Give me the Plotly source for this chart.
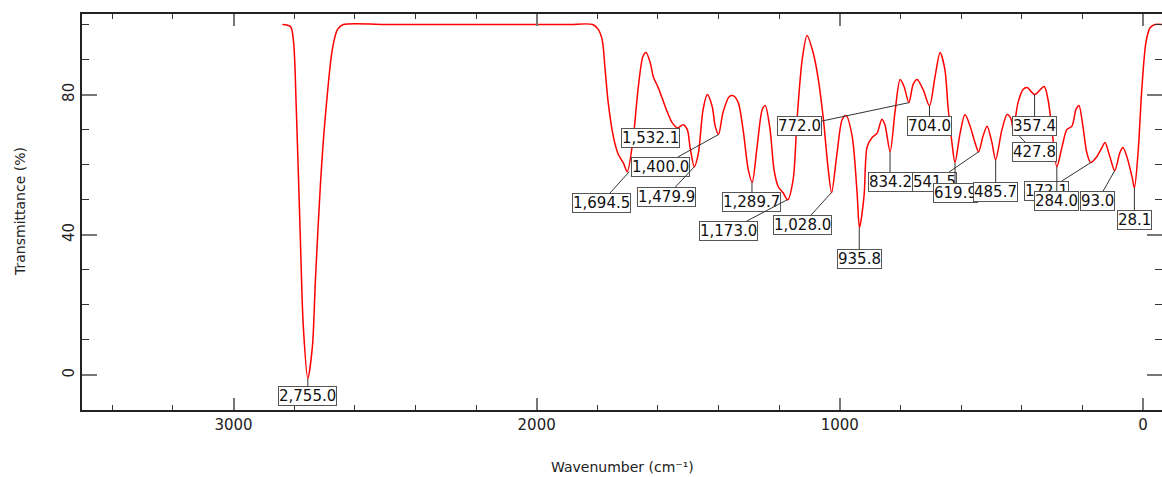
import plotly.graph_objects as go

# ---- spectrum data ----
wavenumber = [2839, 2812, 2802, 2793, 2780, 2770, 2755, 2740, 2730, 2713, 2697, 2674, 2657, 2638,
              2500, 2200, 1900, 1815,
              1797, 1784, 1774, 1764, 1747, 1731, 1714, 1701, 1681, 1665, 1649, 1639, 1625, 1615,
              1599, 1586, 1569, 1553, 1536, 1517, 1503, 1494, 1480, 1467, 1451, 1437, 1421, 1411,
              1400, 1385, 1365, 1352, 1335, 1319, 1302, 1289, 1273, 1256, 1246, 1230, 1217, 1203,
              1187, 1172, 1154, 1141, 1124, 1108, 1088, 1072, 1055, 1039, 1027, 1009, 992, 979,
              959, 943, 935, 920, 910, 894, 877, 861, 851, 834, 818, 801, 788, 772, 758, 745, 725,
              704, 686, 669, 653, 643, 630, 620, 603, 587, 570, 554, 542, 528, 514, 498, 486, 465,
              448, 435, 428, 412, 396, 382, 357, 326, 313, 300, 284, 267, 251, 234, 221, 211, 198,
              185, 172, 152, 135, 125, 109, 93, 76, 66, 53, 36, 28, 16, 3, -10, -23, -40, -63]
transmittance = [100, 99.4, 95, 76, 40, 14, -1, 8, 27, 55, 74, 93, 98.6, 100,
                 100, 100, 100, 100,
                 98.6, 95.7, 87, 77.7, 68, 63, 60.5, 58, 68, 82, 91, 92, 89, 85,
                 82, 79, 75, 72, 70.5, 71.4, 70, 65, 59.4, 63, 75.7, 80, 76.6, 71,
                 68.6, 75, 79.4, 79.7, 77.7, 70, 58.6, 55, 65, 75.7, 76.9, 70, 58.6, 53.7,
                 52, 50, 55.7, 73, 90, 96.9, 92, 85, 73.7, 59.4, 52, 63.4, 72.9, 74,
                 68, 52, 42, 51, 65, 67.7, 69, 73, 71.4, 63.7, 74.9, 84.3, 82.3, 77.7, 82.9, 84.3, 81.4,
                 76.8, 85, 92, 87, 76.6, 66.3, 60.6, 69, 74.3, 71, 66.3, 63.7, 68, 71, 66.3, 61.4, 70,
                 74.3, 73, 70, 77.7, 81.4, 82, 80, 82.3, 78.6, 70, 59.4, 65, 70, 71, 75.7, 76.9, 71,
                 63.4, 60.6, 62.3, 64.9, 66.3, 62.3, 58.3, 63.4, 64.9, 62.3, 56.6, 53.4, 63.4, 82.3,
                 94.9, 99, 100, 100]

# ---- peak labels ----
peak_labels = ["2,755.0", "1,694.5", "1,532.1", "1,400.0", "1,479.9", "1,289.7", "1,173.0",
               "1,028.0", "935.8", "834.2", "772.0", "704.0", "541.5", "619.9", "485.7",
               "427.8", "357.4", "172.1", "284.0", "93.0", "28.1"]
peak_wn = [2755.0, 1694.5, 1532.1, 1400.0, 1479.9, 1289.7, 1173.0, 1028.0, 935.8, 834.2,
           772.0, 704.0, 541.5, 619.9, 485.7, 427.8, 357.4, 172.1, 284.0, 93.0, 28.1]
peak_T = [-1, 58, 70.5, 68.6, 59.4, 55, 50, 52, 42, 63.7, 77.7, 76.8, 63.7, 60.6, 61.4,
          70, 80, 60.6, 59.4, 58.3, 53.4]
# label box offsets (pixels) from the peak point
label_dx = [0, -28, -28, -58, -28, 0, -59, -29, 0, 0, -109, 0, -44, 0, 0, 21, 0, -44, 0, -17, 0]
label_dy = [18, 31, 10, 32, 30, 20, 31, 32, 31, 30, 23, 20, 30, 30, 32, 22, 31, 28, 34, 30, 32]

x_tick_vals = [3000, 2000, 1000, 0]
x_tick_text = ["3000", "2000", "1000", "0"]
y_tick_vals = [0, 40, 80]
y_tick_text = ["0", "40", "80"]

FONT = "DejaVu Sans"

fig = go.Figure()
fig.add_trace(go.Scatter(
    x=wavenumber, y=transmittance, mode="lines",
    line=dict(color="#ff0000", width=1.5, shape="spline", smoothing=0.8),
    hoverinfo="skip", showlegend=False,
))

for txt, xv, yv, dx, dy in zip(peak_labels, peak_wn, peak_T, label_dx, label_dy):
    fig.add_annotation(
        x=xv, y=yv, xref="x", yref="y", text=txt,
        showarrow=True, arrowhead=0, arrowwidth=1, arrowcolor="#333333",
        ax=dx, ay=dy, standoff=0,
        font=dict(family=FONT, size=15, color="#111111"),
        bgcolor="#ffffff", bordercolor="#555555", borderwidth=1, borderpad=0,
    )

axis_common = dict(
    showline=True, linecolor="#222222", linewidth=1.5, mirror="ticks",
    ticks="inside", tickcolor="#777777", tickwidth=2,
    showgrid=False, zeroline=False, automargin=False,
    tickfont=dict(family=FONT, size=15, color="#222222"),
)

fig.update_xaxes(
    range=[3500, -63], tickmode="array", tickvals=x_tick_vals, ticktext=x_tick_text,
    ticklen=12,
    minor=dict(ticks="inside", tick0=0, dtick=200, ticklen=5, tickwidth=1, tickcolor="#333333", showgrid=False),
    **axis_common,
)
fig.update_yaxes(
    range=[-10, 103], tickmode="array", tickvals=y_tick_vals, ticktext=y_tick_text,
    ticklen=15, tickangle=-90,
    minor=dict(ticks="inside", tick0=0, dtick=10, ticklen=7, tickwidth=1, tickcolor="#333333", showgrid=False),
    **axis_common,
)

fig.add_annotation(text="Wavenumber (cm⁻¹)", xref="paper", yref="paper", x=0.5, y=0,
                   yanchor="middle", yshift=-57, showarrow=False,
                   font=dict(family=FONT, size=14, color="#222222"))
fig.add_annotation(text="Transmittance (%)", xref="paper", yref="paper", x=0, y=0.5,
                   xanchor="center", xshift=-62, textangle=-90, showarrow=False,
                   font=dict(family=FONT, size=14, color="#222222"))

fig.update_layout(
    width=1162, height=477,
    margin=dict(l=82, r=0, t=14, b=67, autoexpand=False),
    paper_bgcolor="#ffffff", plot_bgcolor="#ffffff",
)

fig.write_html("out.html", config={"displayModeBar": False},
               post_script="document.body.style.margin='0';document.body.style.overflow='hidden';")
